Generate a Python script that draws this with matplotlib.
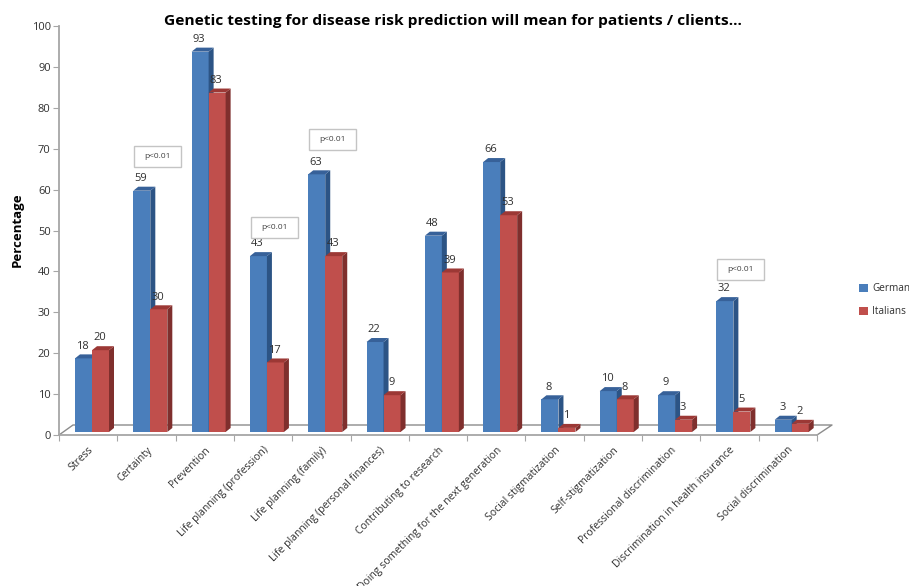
import matplotlib
matplotlib.use("Agg")
import matplotlib.pyplot as plt
from matplotlib.patches import Polygon, Rectangle, Patch

categories = ["Stress", "Certainty", "Prevention", "Life planning (profession)",
              "Life planning (family)", "Life planning (personal finances)",
              "Contributing to research", "Doing something for the next generation",
              "Social stigmatization", "Self-stigmatization",
              "Professional discrimination", "Discrimination in health insurance",
              "Social discrimination"]
germans = [18, 59, 93, 43, 63, 22, 48, 66, 8, 10, 9, 32, 3]
italians = [20, 30, 83, 17, 43, 9, 39, 53, 1, 8, 3, 5, 2]
series_names = ["Germans", "Italians"]
p_label = "p<0.01"
p_categories = [1, 3, 4, 11]
p_values = [68, 50.7, 72.2, 40.5]

W, H = 909, 586
plt.rcParams['font.family'] = ['Open Sans', 'DejaVu Sans']
fig = plt.figure(figsize=(W / 100, H / 100), dpi=100, facecolor="white")
L, R, T, B = 59, 817, 26, 435
ax = fig.add_axes([L / W, 1 - B / H, (R - L) / W, (B - T) / H])
ax.set_xlim(0, 13)
ax.set_ylim(0, 100)
px = 13 / (R - L)
py = 100 / (B - T)
AXC = "#a6a6a6"
TXT = "#303030"

# floor
ax.plot([0, 14 * px, 13 + 15 * px, 13], [0, 10 * py, 10 * py, 0], color="#8c8c8c",
        lw=1, clip_on=False, zorder=1)

colors = [("#4a7ebb", "#2c5485", "#376199"), ("#c04f4c", "#7f2f2d", "#9c3835")]
bw = 17 * px
lift = 3 * py
ddx, ddy = 5 * px, 4 * py


def bar3d(x0, v, cols, z):
    ax.bar(x0, v, width=bw, bottom=lift, align="edge", color=cols[0], lw=0, zorder=z)
    t = v + lift
    ax.add_patch(Polygon([(x0 + bw, lift), (x0 + bw + ddx, lift + ddy), (x0 + bw + ddx, t + ddy), (x0 + bw, t)],
                         closed=True, fc=cols[1], lw=0, zorder=z))
    ax.add_patch(Polygon([(x0, t), (x0 + ddx, t + ddy), (x0 + bw + ddx, t + ddy), (x0 + bw, t)],
                         closed=True, fc=cols[2], lw=0, zorder=z))


for i, (g, it) in enumerate(zip(germans, italians)):
    x0 = i + 16 * px
    bar3d(x0, g, colors[0], 3)
    bar3d(x0 + bw, it, colors[1], 4)
    ax.annotate(str(g), (x0 + bw * 0.45, g + lift + ddy), xytext=(0, 2), textcoords="offset points",
                ha="center", va="bottom", fontsize=8, color=TXT, zorder=6)
    ax.annotate(str(it), (x0 + bw * 1.45, it + lift + ddy), xytext=(0, 2), textcoords="offset points",
                ha="center", va="bottom", fontsize=8, color=TXT, zorder=6)

for c, v in zip(p_categories, p_values):
    cx = c + 0.5 + 11 * px
    ax.add_patch(Rectangle((cx - 23.5 * px, v - 10.5 * py), 47 * px, 21 * py, fc="white",
                           ec="#c4c4c4", lw=1, zorder=6))
    ax.text(cx, v, p_label, ha="center", va="center", fontsize=6, color="#404040", zorder=7)

for s in ("top", "right"):
    ax.spines[s].set_visible(False)
for s in ("left", "bottom"):
    ax.spines[s].set_color(AXC)
    ax.spines[s].set_linewidth(1.3)

ax.set_yticks(range(0, 101, 10))
ax.tick_params(axis="y", labelsize=8, colors=TXT, color=AXC, length=4, pad=2)
ax.set_xticks(range(0, 14))
ax.set_xticklabels([])
ax.tick_params(axis="x", which="major", color=AXC, length=4)
ax.set_xticks([i + 0.5 for i in range(13)], minor=True)
ax.set_xticklabels(categories, minor=True, rotation=45, ha="right", va="top",
                   rotation_mode="anchor", fontsize=7.5, color=TXT)
ax.tick_params(axis="x", which="minor", length=0, pad=7)

fig.text(453 / W, 1 - 21 / H, "Genetic testing for disease risk prediction will mean for patients / clients...",
         ha="center", va="center", fontsize=11.15, fontweight="bold", color="black")
fig.text(17 / W, 1 - 230 / H, "Percentage", rotation=90, ha="center", va="center",
         fontsize=9.5, fontweight="bold", color="black")

handles = [Patch(fc=colors[0][0], label=series_names[0]), Patch(fc=colors[1][0], label=series_names[1])]
fig.legend(handles=handles, loc="upper left", bbox_to_anchor=(856 / W, 1 - 280 / H), frameon=False,
           fontsize=7.2, labelcolor=TXT, handlelength=0.85, handleheight=0.85, handletextpad=0.45,
           labelspacing=1.25, borderpad=0.3, borderaxespad=0)

fig.savefig("out.png", dpi=100)
